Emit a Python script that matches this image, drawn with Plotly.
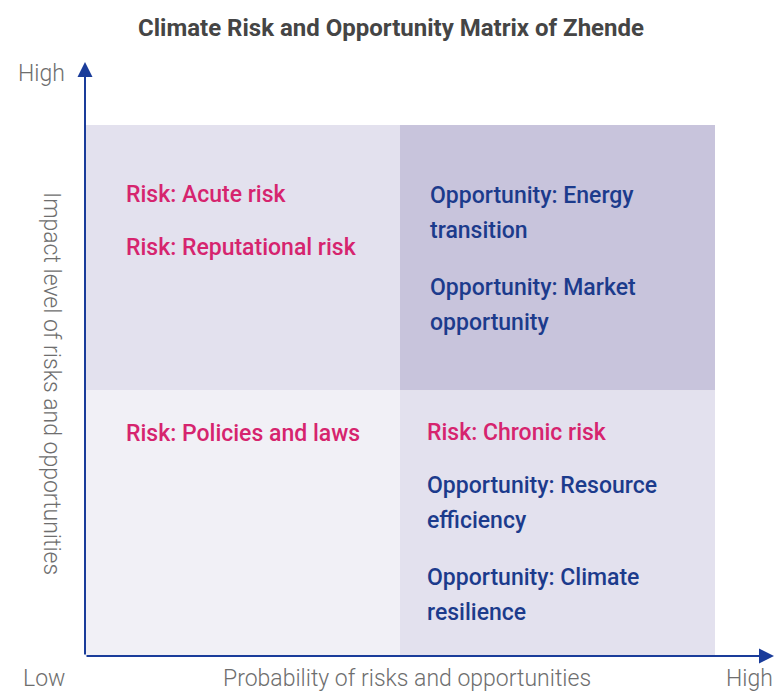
import plotly.graph_objects as go

# ---------------- data ----------------
title_text = "Climate Risk and Opportunity Matrix of Zhende"
x_title = "Probability of risks and opportunities"
y_title = "Impact level of risks and opportunities"
level_labels = ["Low", "High"]

# quadrant definitions: (probability level index, impact level index)
quad_prob = [0, 1, 0, 1]
quad_impact = [1, 1, 0, 0]
quad_colors = ["#E3E1EE", "#C8C4DC", "#F1F0F6", "#E3E1EE"]

# items: quadrant index, kind, lines of text
item_quad = [0, 0, 1, 1, 2, 3, 3, 3]
item_kind = ["risk", "risk", "opp", "opp", "risk", "risk", "opp", "opp"]
item_lines = [
    ["Risk: Acute risk"],
    ["Risk: Reputational risk"],
    ["Opportunity: Energy", "transition"],
    ["Opportunity: Market", "opportunity"],
    ["Risk: Policies and laws"],
    ["Risk: Chronic risk"],
    ["Opportunity: Resource", "efficiency"],
    ["Opportunity: Climate", "resilience"],
]

# ---------------- styling / layout constants ----------------
W, H = 775, 691
ML, MR, MT, MB = 85, 1, 62, 35
X_ORIGIN_PX, Y_ORIGIN_PX = 85, 656
PX_X = 315.0   # pixels per quadrant unit (x)
PX_Y = 265.5   # pixels per quadrant unit (y)
plot_w = W - ML - MR
plot_h = H - MT - MB
xmax = plot_w / PX_X
ymax = plot_h / PX_Y

kind_color = {"risk": "#D6246E", "opp": "#1C3B8C"}
axis_color = "#1A3C9A"
label_color = "#6E6E6E"
FONT = "Roboto"

quad_pad_x = [39, 28, 39, 25]       # text left padding inside quadrant (px)
quad_pad_top = [69, 70, 43, 42]     # first line centre below quadrant top (px)
LINE_GAP = 35

fig = go.Figure()
# invisible trace to establish axes
fig.add_trace(go.Scatter(x=[0, xmax], y=[0, ymax], mode="markers",
                         marker=dict(opacity=0), hoverinfo="skip", showlegend=False))

# quadrant rectangles
for qi in range(len(quad_prob)):
    x0 = quad_prob[qi]
    y0 = quad_impact[qi]
    fig.add_shape(type="rect", xref="x", yref="y", x0=x0, x1=x0 + 1, y0=y0, y1=y0 + 1,
                  fillcolor=quad_colors[qi], line=dict(width=0), layer="below")

# quadrant texts
offsets = {q: quad_pad_top[q] for q in range(len(quad_prob))}
for q, kind, lines in zip(item_quad, item_kind, item_lines):
    for li, line in enumerate(lines):
        fig.add_annotation(
            x=quad_prob[q], y=quad_impact[q] + 1, xref="x", yref="y",
            text=line, showarrow=False, xanchor="left", yanchor="middle",
            xshift=quad_pad_x[q], yshift=-(offsets[q] + li * LINE_GAP),
            font=dict(family=FONT, size=23, color=kind_color[kind], weight=500),
        )
    offsets[q] += len(lines) * LINE_GAP + 14 + 4 * len(lines)

# axis arrows
fig.add_annotation(x=xmax, y=0, ax=0, ay=0, xref="x", yref="y", axref="x", ayref="y",
                   showarrow=True, arrowhead=2, arrowsize=1.5, arrowwidth=2,
                   arrowcolor=axis_color, text="")
fig.add_annotation(x=0, y=ymax, ax=0, ay=0, xref="x", yref="y", axref="x", ayref="y",
                   showarrow=True, arrowhead=2, arrowsize=1.5, arrowwidth=2,
                   arrowcolor=axis_color, text="")

lab_font = dict(family=FONT, size=23, color=label_color, weight=300)
# level labels
fig.add_annotation(x=0, y=ymax, xref="x", yref="y", text=level_labels[1], showarrow=False,
                   xanchor="right", yanchor="middle", xshift=-18, yshift=-11, font=lab_font)
fig.add_annotation(x=0, y=0, xref="x", yref="y", text=level_labels[0], showarrow=False,
                   xanchor="right", yanchor="middle", xshift=-18, yshift=-22, font=lab_font)
fig.add_annotation(x=xmax, y=0, xref="x", yref="y", text=level_labels[1], showarrow=False,
                   xanchor="right", yanchor="middle", xshift=1, yshift=-22, font=lab_font)
# axis titles
fig.add_annotation(x=(407 - ML) / plot_w, y=0, xref="paper", yref="y", text=x_title,
                   showarrow=False, xanchor="center", yanchor="middle", yshift=-22, font=lab_font)
fig.add_annotation(x=0, y=(Y_ORIGIN_PX - 383) / plot_h, xref="x", yref="paper",
                   text=y_title, textangle=90, showarrow=False, xanchor="center",
                   yanchor="middle", xshift=-33, font=lab_font)

fig.update_layout(
    width=W, height=H,
    margin=dict(l=ML, r=MR, t=MT, b=MB),
    paper_bgcolor="white", plot_bgcolor="white",
    title=dict(text=title_text, x=391 / W, y=1 - 28 / H, xanchor="center", yanchor="middle",
               font=dict(family=FONT, size=24, color="#454545", weight="bold")),
    xaxis=dict(range=[0, xmax], visible=False, fixedrange=True),
    yaxis=dict(range=[0, ymax], visible=False, fixedrange=True),
    showlegend=False,
)

fig.write_html("out.html", config={"displayModeBar": False},
               post_script="document.body.style.margin='0';document.body.style.overflow='hidden';")
